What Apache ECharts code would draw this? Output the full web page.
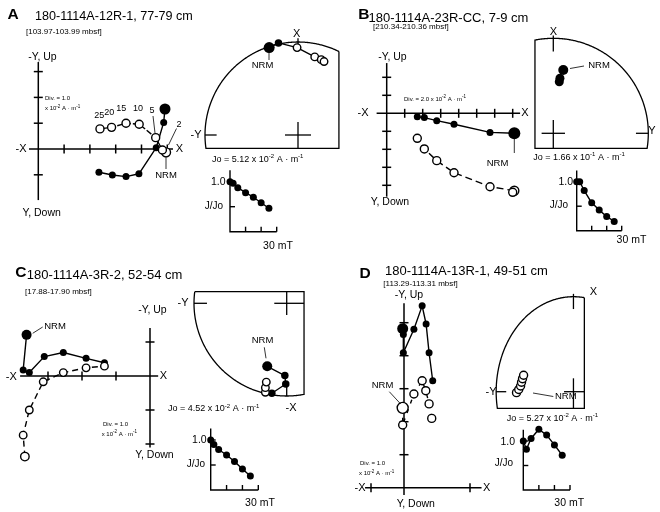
<!DOCTYPE html>
<html><head><meta charset="utf-8">
<script src="https://cdn.jsdelivr.net/npm/echarts@6/dist/echarts.min.js"></script>
<style>html,body{margin:0;padding:0;background:#fff}#c{width:660px;height:512px}</style>
</head><body><div id="c"></div>
<script>
// ================= DATA =================
const afSteps = [0, 2, 5, 10, 15, 20, 25];          // AF demagnetization steps (mT)
const decayTicksX = [10, 20, 30];
const decayTicksY = [0.5, 1.0];

// ---- Panel A : 180-1114A-12R-1, 77-79 cm ----
const aHorX = [4.91, 4.86, 4.57, 3.90, 3.40, 2.87, 2.35];   // solid (horizontal projection), div units
const aHorY = [1.55, 1.03, 0.05, -0.96, -1.07, -1.01, -0.90];
const aVerX = [4.95, 4.81, 4.55, 3.91, 3.40, 2.84, 2.39];   // open (vertical projection)
const aVerY = [-0.13, -0.04, 0.44, 0.96, 1.00, 0.84, 0.78];
const aTicksX = [1, 2, 3, 4, 5];
const aTicksY = [-1, 1, 2, 3];
const aStX = [-0.31, -0.21, -0.01, 0.18, 0.25, 0.28];       // stereonet (unit circle)
const aStY = [0.94, 0.99, 0.94, 0.84, 0.81, 0.79];
const aStFill = [1, 1, 0, 0, 0, 0];
const aDecay = [1.0, 0.97, 0.88, 0.78, 0.69, 0.58, 0.47];

// ---- Panel B : 180-1114A-23R-CC, 7-9 cm ----
const bHorX = [7.09, 7.00, 5.74, 3.74, 2.78, 2.09, 1.70];
const bHorY = [-1.11, -1.10, -1.06, -0.61, -0.41, -0.24, -0.19];
const bVerX = [7.09, 7.00, 5.74, 3.74, 2.78, 2.09, 1.70];
const bVerY = [-4.30, -4.39, -4.08, -3.30, -2.63, -1.98, -1.39];
const bTicksX = [1, 2, 3, 4, 5, 6, 7];
const bTicksY = [2, 1, -1, -2, -3, -4];
const bStX = [0.105, 0.07, 0.063];
const bStY = [0.666, 0.579, 0.543];
const bStFill = [1, 1, 1];
const bDecay = [1.0, 1.0, 0.82, 0.57, 0.42, 0.29, 0.19];

// ---- Panel C : 180-1114A-3R-2, 52-54 cm ----
const cHorX = [-3.63, -3.73, -3.55, -3.11, -2.55, -1.88, -1.34];
const cHorY = [1.21, 0.18, 0.10, 0.57, 0.69, 0.52, 0.39];
const cVerX = [-3.68, -3.73, -3.55, -3.14, -2.55, -1.88, -1.34];
const cVerY = [-2.37, -1.74, -1.00, -0.17, 0.10, 0.24, 0.29];
const cTicksX = [-3, -2, -1];
const cTicksY = [1, -1, -2];
const cStX = [-0.21, -0.02, -0.01, -0.16, -0.23, -0.23, -0.22];
const cStY = [-0.68, -0.78, -0.87, -0.97, -0.96, -0.91, -0.85];
const cStFill = [1, 1, 1, 1, 0, 0, 0];
const cDecay = [1.0, 0.91, 0.81, 0.70, 0.57, 0.42, 0.28];

// ---- Panel D : 180-1114A-13R-1, 49-51 cm ----
const dHorX = [-0.04, -0.02, -0.02, 0.30, 0.55, 0.67, 0.76, 0.87];
const dHorY = [4.82, 4.64, 4.09, 4.80, 5.51, 4.96, 4.09, 3.24];
const dVerX = [-0.04, -0.04, 0.30, 0.55, 0.66, 0.76, 0.84];
const dVerY = [2.42, 1.90, 2.84, 3.24, 2.94, 2.54, 2.10];
const dTicksX = [-1, 2];
const dTicksY = [1, 2, 3, 4, 5];
const dStX = [-0.737, -0.708, -0.684, -0.672, -0.659, -0.645];
const dStY = [-0.01, 0.023, 0.06, 0.10, 0.137, 0.173];
const dStFill = [0, 0, 0, 0, 0, 0];
const dDecay = [1.0, 0.83, 1.05, 1.24, 1.12, 0.92, 0.71];

// ================= LAYOUT =================
const panels = [
  { zij:{ox:38.3, oy:149, s:25.8, ax:[-0.36,5.22], ay:[-1.98,3.37], tx:aTicksX, ty:aTicksY,
         hx:aHorX, hy:aHorY, vx:aVerX, vy:aVerY, dash:[6,2], sb:11, ss:7, ob:9, os:8},
    st:{cx:298, cy:135, r:93, x:aStX, y:aStY, f:aStFill, join:6, big:11, size:7.5,
        clip:[{a:0,v:0.44,le:true},{a:1,v:-0.143,le:false}],
        marks:[[[-0.14,0],[0.14,0]],[[0,0.14],[0,-0.143]],[[-1,0],[-0.875,0]],[[0,0.9],[0,1.04]]]},
    dec:{ox:230, oy:231.7, kx:46.7/30, ky:50, d:aDecay} },
  { zij:{ox:386.7, oy:113.3, s:18, ax:[-0.56,7.41], ay:[-4.63,2.79], tx:bTicksX, ty:bTicksY,
         hx:bHorX, hy:bHorY, vx:bVerX, vy:bVerY, dash:[7,4], sb:12, ss:7, ob:9, os:8},
    st:{cx:553.3, cy:133.3, r:95, x:bStX, y:bStY, f:bStFill, join:0, big:10, size:9,
        clip:[{a:0,v:-0.193,le:false},{a:1,v:-0.158,le:false}],
        marks:[[[-0.123,0],[0.123,0]],[[0,0.14],[0,-0.158]],[[0,0.86],[0,1.03]],[[0.87,0],[1,0]]]},
    dec:{ox:576.7, oy:230.7, kx:45/30, ky:49, d:bDecay} },
  { zij:{ox:150, oy:376, s:34, ax:[-3.82,0.24], ay:[-2.1,1.41], tx:cTicksX, ty:cTicksY,
         hx:cHorX, hy:cHorY, vx:cVerX, vy:cVerY, dash:[6,4], sb:10, ss:7, ob:8.5, os:7.5},
    st:{cx:286.7, cy:303.3, r:92.7, x:cStX, y:cStY, f:cStFill, join:5, big:10, size:7.5,
        clip:[{a:0,v:0.187,le:true},{a:1,v:0.125,le:true}],
        marks:[[[-0.134,0],[0.187,0]],[[0,0.125],[0,-0.126]],[[-1,0],[-0.86,0]],[[0,-1],[0,-0.865]]]},
    dec:{ox:210.7, oy:490, kx:47.6/30, ky:50, d:cDecay} },
  { zij:{ox:404, oy:487.7, s:33, ax:[-1.18,2.35], ay:[-0.22,5.59], tx:dTicksX, ty:dTicksY,
         hx:dHorX, hy:dHorY, vx:dVerX, vy:dVerY, dash:[4,6], sb:11, ss:7, ob:11, os:8},
    st:{cx:593.3, cy:391.7, r:95, x:dStX, y:dStY, f:dStFill, join:6, big:8, size:8,
        clip:[{a:0,v:0.141,le:true},{a:1,v:-0.175,le:false}],
        marks:[[[-0.122,0],[0.141,0]],[[0,0.141],[0,-0.175]],[[0,0.87],[0,1.03]],[[-1,0],[-0.87,0]]]},
    dec:{ox:523.3, oy:490, kx:46.7/30, ky:49, d:dDecay} }
];

// ================= BUILD =================
const FF = '"Liberation Sans", Arial, Helvetica, sans-serif';
const grids = [], xAxes = [], yAxes = [], series = [], graphics = [];

function addGrid(left, top, width, height, xr, yr) {
  const i = grids.length;
  grids.push({left, top, width, height, containLabel:false, show:false});
  xAxes.push({type:'value', gridIndex:i, min:xr[0], max:xr[1], show:false});
  yAxes.push({type:'value', gridIndex:i, min:yr[0], max:yr[1], show:false});
  return i;
}
function segs(i, polys, width) {
  series.push({type:'lines', coordinateSystem:'cartesian2d', xAxisIndex:i, yAxisIndex:i,
    polyline:true, silent:true, clip:false, z:2, animation:false,
    lineStyle:{color:'#000', width:width, opacity:1, type:'solid'},
    data: polys.map(c => ({coords:c}))});
}
function pointLine(i, xs, ys, o) {
  series.push({type:'line', xAxisIndex:i, yAxisIndex:i, silent:true, clip:false, animation:false,
    data: xs.map((x,k) => [x, ys[k]]), symbol:'circle', showSymbol:true, z:o.z,
    symbolSize: (v, p) => p.dataIndex === 0 ? o.big : o.size,
    itemStyle:{color:o.open ? '#fff' : '#000', borderColor:'#000', borderWidth:o.open ? 1.4 : 0},
    lineStyle:{color:'#000', width:1.4, type:o.dash || 'solid'}});
}
function clipPoly(poly, c) {
  const inside = p => c.le ? p[c.a] <= c.v : p[c.a] >= c.v;
  const out = [];
  for (let i = 0; i < poly.length; i++) {
    const a = poly[i], b = poly[(i+1) % poly.length];
    const ia = inside(a), ib = inside(b);
    if (ia) out.push(a);
    if (ia !== ib) {
      const t = (c.v - a[c.a]) / (b[c.a] - a[c.a]);
      out.push([a[0] + t*(b[0]-a[0]), a[1] + t*(b[1]-a[1])]);
    }
  }
  return out;
}

panels.forEach(p => {
  // --- Zijderveld diagram ---
  const z = p.zij;
  const gz = addGrid(z.ox + z.ax[0]*z.s, z.oy - z.ay[1]*z.s, (z.ax[1]-z.ax[0])*z.s, (z.ay[1]-z.ay[0])*z.s, z.ax, z.ay);
  const h = 4.5 / z.s;
  const zp = [[[z.ax[0],0],[z.ax[1],0]], [[0,z.ay[0]],[0,z.ay[1]]]];
  z.tx.forEach(t => zp.push([[t,-h],[t,h]]));
  z.ty.forEach(t => zp.push([[-h,t],[h,t]]));
  segs(gz, zp, 1.5);
  pointLine(gz, z.hx, z.hy, {open:false, big:z.sb, size:z.ss, z:3});
  pointLine(gz, z.vx, z.vy, {open:true, big:z.ob, size:z.os, dash:z.dash, z:4});

  // --- Equal-area stereonet ---
  const s = p.st, e = 1.12;
  const gs = addGrid(s.cx - e*s.r, s.cy - e*s.r, 2*e*s.r, 2*e*s.r, [-e,e], [-e,e]);
  let poly = [];
  for (let k = 0; k < 720; k++) { const a = k/720*2*Math.PI; poly.push([Math.cos(a), Math.sin(a)]); }
  s.clip.forEach(c => { poly = clipPoly(poly, c); });
  poly.push(poly[0]);
  segs(gs, [poly].concat(s.marks), 1.3);
  if (s.join > 1) {
    series.push({type:'line', xAxisIndex:gs, yAxisIndex:gs, silent:true, clip:false, animation:false, z:3,
      data: s.x.slice(0, s.join).map((x,k) => [x, s.y[k]]), showSymbol:false, symbol:'none',
      lineStyle:{color:'#000', width:1.3}});
  }
  series.push({type:'scatter', xAxisIndex:gs, yAxisIndex:gs, silent:true, animation:false, z:4, clip:false,
    data: s.x.map((x,k) => ({value:[x, s.y[k]], symbolSize: k === 0 ? s.big : s.size,
      itemStyle:{color: s.f[k] ? '#000' : '#fff', borderColor:'#000', borderWidth: s.f[k] ? 0 : 1.4}})),
    symbol:'circle', itemStyle:{opacity:1}});

  // --- J/Jo decay plot ---
  const d = p.dec, top = 1.23;
  const gd = addGrid(d.ox, d.oy - top*d.ky, 30*d.kx, top*d.ky, [0,30], [0,top]);
  const dp = [[[0,top],[0,0],[30,0]]];
  decayTicksX.forEach(t => dp.push([[t,0],[t,5/d.ky]]));
  decayTicksY.forEach(t => dp.push([[0,t],[5/d.kx,t]]));
  segs(gd, dp, 1.4);
  series.push({type:'line', xAxisIndex:gd, yAxisIndex:gd, silent:true, clip:false, animation:false, z:3,
    data: afSteps.map((m,k) => [m, d.d[k]]), symbol:'circle', symbolSize:7,
    itemStyle:{color:'#000'}, lineStyle:{color:'#000', width:1.4}});
});

// ================= TEXT =================
const SUP = {s:{fontSize:6, fontFamily:FF, padding:[0,0,6,0]}};
const SUPS = {s:{fontSize:4.5, fontFamily:FF, padding:[0,0,4,0]}};
function txt(x, y, text, size, o) {
  o = o || {};
  const al = o.align || 'left';
  graphics.push({type:'text', x, y, silent:true, z:100,
    style:{text, fontSize:size, fontFamily:FF, fontWeight:o.bold ? 'bold' : 'normal', fill:'#000',
      align:al, textAlign:al, verticalAlign:'middle', textVerticalAlign:'middle', rich:o.rich}});
}
function lead(x1, y1, x2, y2) {
  graphics.push({type:'line', silent:true, z:100, shape:{x1,y1,x2,y2}, style:{stroke:'#000', lineWidth:0.8}});
}
const C = {align:'center'}, R = {align:'right'}, BL = {bold:true, align:'center'};
const unit = 'x 10{s|-2} A · m{s|-1}';

// Panel A
txt(13, 14.5, 'A', 15.5, BL);
txt(35, 17, '180-1114A-12R-1, 77-79 cm', 12.6);
txt(26, 32, '[103.97-103.99 mbsf]', 8);
txt(42.5, 57, '-Y, Up', 10.5, C); txt(41.7, 213, 'Y, Down', 10.5, C);
txt(21, 149, '-X', 11, C); txt(179.5, 149, 'X', 11, C);
txt(45, 98, 'Div. = 1.0', 6); txt(45, 108.5, unit, 6, {rich:SUPS});
txt(99.3, 115.8, '25', 9, C); txt(109.2, 112.5, '20', 9, C); txt(121.2, 108.3, '15', 9, C);
txt(138, 108.3, '10', 9, C); txt(152, 110.5, '5', 9, C); txt(179, 125, '2', 9, C);
lead(176.5, 128.5, 168.5, 145); lead(153, 116, 155, 133);
txt(166, 175.5, 'NRM', 9.5, C); lead(166, 157, 166, 169);
txt(296.7, 33.5, 'X', 11, C); txt(196, 135, '-Y', 11, C);
txt(262.5, 65.5, 'NRM', 9.5, C); lead(269, 52, 269, 60);
txt(212, 159.5, 'Jo = 5.12 ' + unit, 9, {rich:SUP});
txt(225.5, 181.7, '1.0', 10.5, R); txt(223, 206, 'J/Jo', 10, R); txt(278, 246.5, '30 mT', 10.5, C);

// Panel B
txt(363.8, 14.7, 'B', 15.5, BL);
txt(368.5, 18, '180-1114A-23R-CC, 7-9 cm', 13);
txt(373, 26.5, '[210.34-210.36 mbsf]', 8);
txt(392.5, 56.7, '-Y, Up', 10.5, C); txt(390, 202, 'Y, Down', 10.5, C);
txt(363, 113.3, '-X', 11, C); txt(525, 113.3, 'X', 11, C);
txt(404, 99, 'Div. = 2.0 ' + unit, 6, {rich:SUPS});
txt(497.5, 163.3, 'NRM', 9.5, C); lead(514.3, 139, 514.3, 153);
txt(553.3, 31.7, 'X', 11, C); txt(652, 131, 'Y', 11, C);
txt(599, 65, 'NRM', 9.5, C); lead(570, 68.5, 584, 66);
txt(533.3, 157.3, 'Jo = 1.66 x 10{s|-1} A · m{s|-1}', 9, {rich:SUP});
txt(573, 181.7, '1.0', 10.5, R); txt(568, 205, 'J/Jo', 10, R); txt(631.5, 240.5, '30 mT', 10.5, C);

// Panel C
txt(20.8, 272.8, 'C', 15.5, BL);
txt(26.7, 275.8, '180-1114A-3R-2, 52-54 cm', 13);
txt(25, 291.5, '[17.88-17.90 mbsf]', 8);
txt(152.5, 310, '-Y, Up', 10.5, C); txt(154.5, 455, 'Y, Down', 10.5, C);
txt(11.3, 376.7, '-X', 11, C); txt(163.3, 376, 'X', 11, C);
txt(55, 326.3, 'NRM', 9.5, C); lead(32.7, 333.3, 42.7, 327);
txt(103, 424, 'Div. = 1.0', 6); txt(101.7, 434, unit, 6, {rich:SUPS});
txt(183, 303, '-Y', 11, C); txt(291, 408.3, '-X', 11, C);
txt(262.5, 340, 'NRM', 9.5, C); lead(264.3, 347.3, 266, 358.3);
txt(168, 409, 'Jo = 4.52 ' + unit, 9, {rich:SUP});
txt(206.7, 440, '1.0', 10.5, R); txt(205, 464, 'J/Jo', 10, R); txt(260, 503, '30 mT', 10.5, C);

// Panel D
txt(365, 274.2, 'D', 15.5, BL);
txt(385, 271.7, '180-1114A-13R-1, 49-51 cm', 13);
txt(383.3, 283.5, '[113.29-113.31 mbsf]', 8);
txt(409, 295.5, '-Y, Up', 10.5, C); txt(415.8, 504.5, 'Y, Down', 10.5, C);
txt(360, 487.7, '-X', 11, C); txt(486.7, 487.7, 'X', 11, C);
txt(382.5, 385, 'NRM', 9.5, C); lead(389.3, 391.7, 400.7, 404);
txt(360, 463.3, 'Div. = 1.0', 6); txt(359, 473.3, unit, 6, {rich:SUPS});
txt(593.3, 291.7, 'X', 11, C); txt(491, 391.7, '-Y', 11, C);
txt(565.8, 396.7, 'NRM', 9.5, C); lead(533, 393, 553.3, 396.5);
txt(506.7, 418.3, 'Jo = 5.27 ' + unit, 9, {rich:SUP});
txt(515, 441.7, '1.0', 10.5, R); txt(513, 463.3, 'J/Jo', 10, R); txt(569.2, 503, '30 mT', 10.5, C);

const chart = echarts.init(document.getElementById('c'), null, {renderer:'canvas'});
chart.setOption({animation:false, backgroundColor:'#fff', grid:grids, xAxis:xAxes, yAxis:yAxes,
  series:series, graphic:{elements:graphics}});
</script></body></html>
